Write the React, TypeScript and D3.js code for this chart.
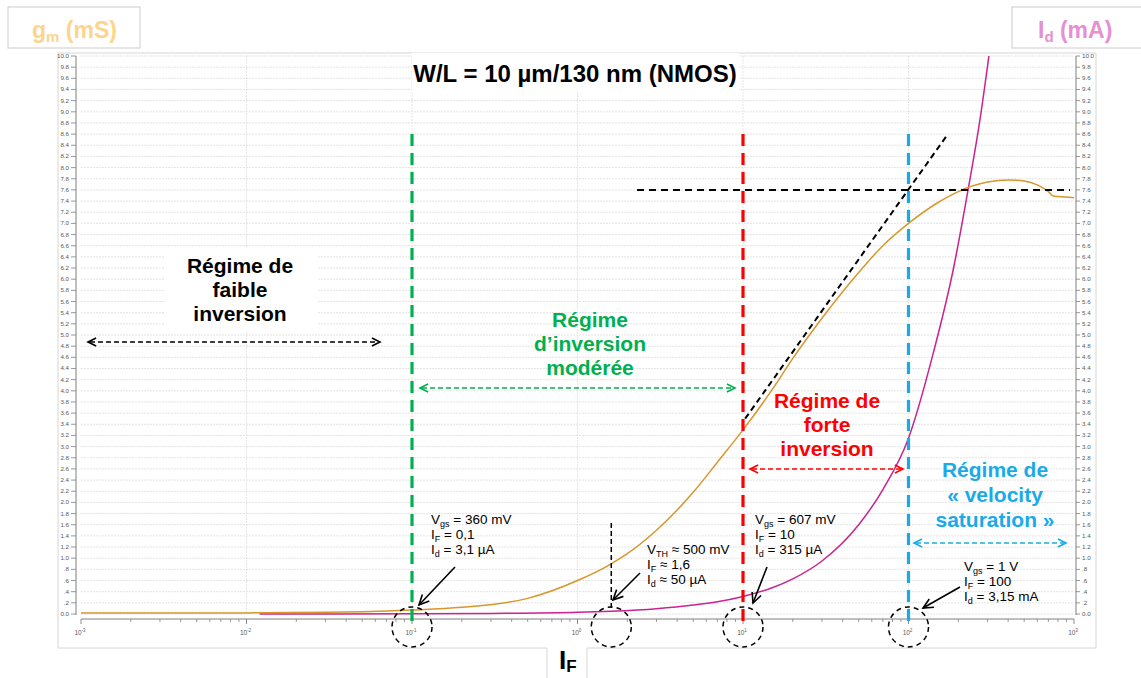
import React from "react";
import * as d3 from "d3";

// ---- data ----
const IF_GM = [0.001, 0.01, 0.03, 0.05, 0.1, 0.2, 0.5, 1, 1.6, 2, 3, 5, 7, 10, 15, 20, 30, 50, 70, 100, 150, 200, 300, 400, 500, 600, 700, 750, 800, 1000];
const GM_MS = [0.02, 0.02, 0.03, 0.04, 0.07, 0.12, 0.28, 0.6, 0.9, 1.08, 1.5, 2.18, 2.72, 3.3, 4.02, 4.58, 5.3, 6.12, 6.6, 7.0, 7.37, 7.57, 7.74, 7.78, 7.76, 7.69, 7.57, 7.49, 7.48, 7.46];

const IF_ID = [0.012, 0.1, 0.3, 1, 1.6, 3, 5, 7, 10, 15, 20, 30, 50, 70, 100, 141, 186, 229, 270, 306];
const ID_MA = [0.0004, 0.003, 0.01, 0.03, 0.05, 0.095, 0.16, 0.22, 0.315, 0.47, 0.63, 0.95, 1.6, 2.23, 3.15, 4.67, 6.16, 7.6, 8.85, 10];

const REGIME_IF = [0.1, 10, 100];
const REGIME_COLORS = ["#00B050", "#FF0000", "#1AAAE8"];
const VTH_IF = 1.6;
const GM_SAT = 7.6;
const GM_SAT_IF = [2.29, 946];
const TANGENT_IF = [10.3, 173];
const TANGENT_GM = [3.5, 8.6];
const CIRCLE_IF = [0.1, 1.6, 10, 100];
const Y_TICKS = d3.range(0, 10.0001, 0.2).map((v) => Math.round(v * 10) / 10);
const X_DECADES = [-3, -2, -1, 0, 1, 2, 3];

const FONT = "'Liberation Sans', Arial, Helvetica, sans-serif";

const x = d3.scaleLog().domain([1e-3, 1e3]).range([81, 1074]);
const y = d3.scaleLinear().domain([0, 10]).range([614, 56]);

function fmtTick(v: number) {
  if (v === 0) return "0.0";
  if (v < 1) return "." + Math.round(v * 10);
  return v.toFixed(1);
}

function Chevron({ x0, y0, dir, color, size = 9 }: any) {
  const a1 = dir + Math.PI - 0.45;
  const a2 = dir + Math.PI + 0.45;
  const p = `M${x0 + size * Math.cos(a1)},${y0 + size * Math.sin(a1)} L${x0},${y0} L${x0 + size * Math.cos(a2)},${y0 + size * Math.sin(a2)}`;
  return <path d={p} fill="none" stroke={color} strokeWidth={1.6} />;
}

function DoubleArrow({ x1, x2, yy, color }: any) {
  return (
    <g>
      <line x1={x1 + 2} x2={x2 - 2} y1={yy} y2={yy} stroke={color} strokeWidth={1.6} strokeDasharray="5,3" />
      <Chevron x0={x1} y0={yy} dir={Math.PI} color={color} />
      <Chevron x0={x2} y0={yy} dir={0} color={color} />
    </g>
  );
}

function Arrow({ x1, y1, x2, y2 }: any) {
  const dir = Math.atan2(y2 - y1, x2 - x1);
  return (
    <g>
      <line x1={x1} y1={y1} x2={x2} y2={y2} stroke="#000" strokeWidth={1.6} />
      <Chevron x0={x2} y0={y2} dir={dir} color="#000" size={11} />
    </g>
  );
}

function Sub({ xx, yy, main, sub, rest }: any) {
  return (
    <text x={xx} y={yy} fontSize={13.5} fontFamily={FONT} fill="#000">
      <tspan>{main}</tspan>
      <tspan fontSize={9} dy={2.5}>{sub}</tspan>
      <tspan dy={-2.5}>{rest}</tspan>
    </text>
  );
}

function Regime({ cx, ys, lines, color }: any) {
  return (
    <g>
      {lines.map((l: string, i: number) => (
        <text key={i} x={cx} y={ys[i]} textAnchor="middle" fontSize={21} fontWeight="bold" fontFamily={FONT} fill={color}>
          {l}
        </text>
      ))}
    </g>
  );
}

export default function App() {
  const gmLine = d3
    .line<number>()
    .x((d, i) => x(IF_GM[i]))
    .y((d) => y(d))
    .curve(d3.curveMonotoneX)(GM_MS);
  const idLine = d3
    .line<number>()
    .x((d, i) => x(IF_ID[i]))
    .y((d) => y(d))
    .curve(d3.curveMonotoneX)(ID_MA);

  const minorTicks: number[] = [];
  for (let e = -3; e < 3; e++) for (let k = 2; k <= 9; k++) minorTicks.push(k * Math.pow(10, e));

  const [x0, x1] = x.range();
  const yBase = 619;

  return (
    <svg width={1141} height={678} style={{ position: "absolute", left: 0, top: 0, background: "#fff" }} fontFamily={FONT}>
      {/* outer frame */}
      <path d="M58,53 H1096 V648 H587 V678" fill="none" stroke="#d6d6d6" strokeWidth={1} />
      <path d="M547,678 V648 H58 V53" fill="none" stroke="#d6d6d6" strokeWidth={1} />

      {/* grid */}
      {Y_TICKS.map((v) => (
        <line key={"g" + v} x1={x0} x2={x1} y1={y(v)} y2={y(v)} stroke="#dcdcdc" strokeWidth={0.8} strokeDasharray="2,1" />
      ))}
      {X_DECADES.slice(1, -1).map((e) => (
        <line key={"vg" + e} x1={x(Math.pow(10, e))} x2={x(Math.pow(10, e))} y1={y(10)} y2={y(0)} stroke="#e0e0e0" strokeWidth={0.8} strokeDasharray="2,1" />
      ))}

      {/* white label backgrounds */}
      <rect x={412} y={53} width={327} height={38} fill="#fff" />
      <rect x={165} y={248} width={152} height={84} fill="#fff" />

      {/* left axis */}
      <line x1={76} x2={76} y1={y(10)} y2={y(0) + 1} stroke="#7f7f7f" strokeWidth={1} />
      {Y_TICKS.map((v) => (
        <g key={"l" + v}>
          <line x1={71} x2={76} y1={y(v)} y2={y(v)} stroke="#7f7f7f" strokeWidth={0.8} />
          <text x={69} y={y(v) + 2} fontSize={6.2} fill="#595959" textAnchor="end">
            {fmtTick(v)}
          </text>
        </g>
      ))}
      {/* right axis */}
      <line x1={1076} x2={1076} y1={y(10)} y2={y(0) + 1} stroke="#7f7f7f" strokeWidth={1} />
      {Y_TICKS.map((v) => (
        <g key={"r" + v}>
          <line x1={1076} x2={1080} y1={y(v)} y2={y(v)} stroke="#7f7f7f" strokeWidth={0.8} />
          <text x={1082} y={y(v) + 2} fontSize={6.2} fill="#595959">
            {fmtTick(v)}
          </text>
        </g>
      ))}
      {/* bottom axis */}
      <line x1={x0} x2={x1} y1={yBase} y2={yBase} stroke="#7f7f7f" strokeWidth={1} />
      {minorTicks.map((t) => (
        <line key={"m" + t} x1={x(t)} x2={x(t)} y1={yBase} y2={yBase + 3} stroke="#7f7f7f" strokeWidth={0.8} />
      ))}
      {X_DECADES.map((e) => (
        <g key={"xd" + e}>
          <line x1={x(Math.pow(10, e))} x2={x(Math.pow(10, e))} y1={yBase} y2={yBase + 5} stroke="#7f7f7f" strokeWidth={0.9} />
          <text x={x(Math.pow(10, e)) - 1} y={635} fontSize={6.5} fill="#595959" textAnchor="middle">
            10
            <tspan fontSize={4.5} dy={-3}>{e}</tspan>
          </text>
        </g>
      ))}

      {/* curves */}
      <path d={idLine || ""} fill="none" stroke="#C8238F" strokeWidth={1.5} />
      <path d={gmLine || ""} fill="none" stroke="#D8962C" strokeWidth={1.5} />

      {/* regime boundaries */}
      {REGIME_IF.map((v, i) => (
        <line key={"rb" + v} x1={x(v)} x2={x(v)} y1={134} y2={625} stroke={REGIME_COLORS[i]} strokeWidth={3.2} strokeDasharray="12,7" />
      ))}
      <line x1={x(VTH_IF)} x2={x(VTH_IF)} y1={523} y2={611} stroke="#000" strokeWidth={1.5} strokeDasharray="5,3" />

      {/* saturation and tangent */}
      <line x1={x(GM_SAT_IF[0])} x2={x(GM_SAT_IF[1])} y1={y(GM_SAT)} y2={y(GM_SAT)} stroke="#000" strokeWidth={2} strokeDasharray="7,5" />
      <line x1={x(TANGENT_IF[0])} x2={x(TANGENT_IF[1])} y1={y(TANGENT_GM[0])} y2={y(TANGENT_GM[1])} stroke="#000" strokeWidth={2} strokeDasharray="6,4" />

      {/* circles */}
      {CIRCLE_IF.map((v) => (
        <circle key={"c" + v} cx={x(v)} cy={627} r={20} fill="none" stroke="#000" strokeWidth={1.5} strokeDasharray="5,4" />
      ))}

      {/* title */}
      <text x={575} y={82} textAnchor="middle" fontSize={24} fontWeight="bold" fill="#000">
        W/L = 10 µm/130 nm (NMOS)
      </text>

      {/* axis label boxes */}
      <rect x={8} y={7} width={132} height={41} fill="#fff" stroke="#cccccc" strokeWidth={1} />
      <text x={32} y={38} fontSize={23} fontWeight="bold" fill="#FCD48C">
        g<tspan fontSize={15} dy={4}>m</tspan>
        <tspan dy={-4}> (mS)</tspan>
      </text>
      <rect x={1012} y={7} width={140} height={41} fill="#fff" stroke="#cccccc" strokeWidth={1} />
      <text x={1038} y={38} fontSize={23} fontWeight="bold" fill="#E490D2">
        I<tspan fontSize={15} dy={4}>d</tspan>
        <tspan dy={-4}> (mA)</tspan>
      </text>
      <text x={559} y={669} fontSize={26} fontWeight="bold" fill="#000">
        I<tspan fontSize={17} dy={3}>F</tspan>
      </text>

      {/* regime labels */}
      <Regime cx={240} ys={[273, 297, 321]} lines={["Régime de", "faible", "inversion"]} color="#000" />
      <Regime cx={590} ys={[327, 351, 375]} lines={["Régime", "d’inversion", "modérée"]} color="#00B050" />
      <Regime cx={827} ys={[408, 432, 456]} lines={["Régime de", "forte", "inversion"]} color="#FF0000" />
      <Regime cx={995} ys={[477, 502, 527]} lines={["Régime de", "« velocity", "saturation »"]} color="#1AAAE8" />

      <DoubleArrow x1={88} x2={380} yy={342} color="#000" />
      <DoubleArrow x1={420} x2={735} yy={388} color="#00B050" />
      <DoubleArrow x1={750} x2={903} yy={469} color="#FF0000" />
      <DoubleArrow x1={914} x2={1066} yy={543} color="#1AAAE8" />

      {/* point annotations */}
      <Sub xx={431} yy={524} main="V" sub="gs" rest=" = 360 mV" />
      <Sub xx={431} yy={539} main="I" sub="F" rest=" = 0,1" />
      <Sub xx={431} yy={554} main="I" sub="d" rest=" = 3,1 µA" />

      <Sub xx={647} yy={554} main="V" sub="TH" rest=" ≈ 500 mV" />
      <Sub xx={647} yy={569} main="I" sub="F" rest=" ≈ 1,6" />
      <Sub xx={647} yy={584} main="I" sub="d" rest=" ≈ 50 µA" />

      <Sub xx={755} yy={524} main="V" sub="gs" rest=" = 607 mV" />
      <Sub xx={755} yy={539} main="I" sub="F" rest=" = 10" />
      <Sub xx={755} yy={554} main="I" sub="d" rest=" = 315 µA" />

      <Sub xx={964} yy={571} main="V" sub="gs" rest=" = 1 V" />
      <Sub xx={964} yy={586} main="I" sub="F" rest=" = 100" />
      <Sub xx={964} yy={601} main="I" sub="d" rest=" = 3,15 mA" />

      <Arrow x1={455} y1={567} x2={419} y2={605} />
      <Arrow x1={640} y1={573} x2={613} y2={600} />
      <Arrow x1={767} y1={567} x2={753} y2={603} />
      <Arrow x1={960} y1={587} x2={923} y2={608} />
    </svg>
  );
}
